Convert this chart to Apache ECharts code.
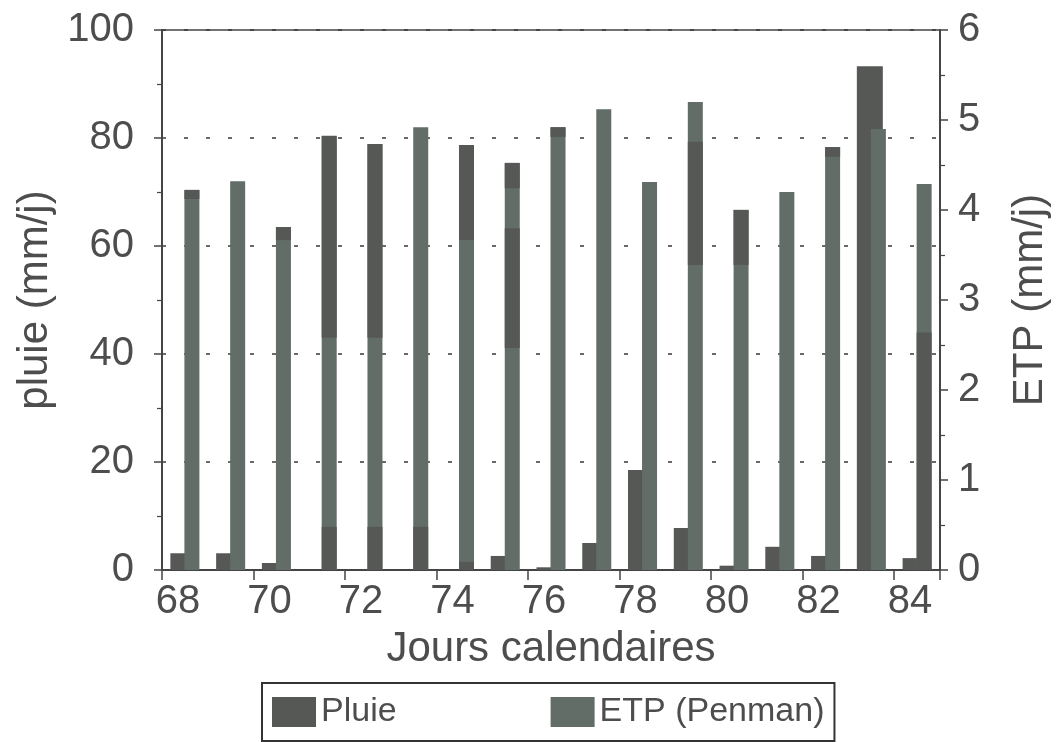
<!DOCTYPE html>
<html>
<head>
<meta charset="utf-8">
<script src="https://cdn.jsdelivr.net/npm/echarts@6/dist/echarts.min.js"></script>
<style>
  html, body { margin: 0; padding: 0; background: #fff; }
  #chart { width: 1059px; height: 742px; }
</style>
</head>
<body>
<div id="chart"></div>
<script>
// Calendar days (one bar group per day)
const days = ['68', '69', '70', '71', '72', '73', '74', '75', '76', '77', '78', '79', '80', '81', '82', '83', '84'];

// Daily rainfall, mm/j (left axis)
const pluie = [3.1, 3.1, 1.3, 0, 0, 0, 0, 2.6, 0.5, 5.0, 18.5, 7.8, 0.8, 4.3, 2.6, 93.3, 2.2];

// Penman potential evapotranspiration, mm/j (right axis)
const etp = [4.22, 4.32, 3.81, 4.82, 4.73, 4.92, 4.72, 4.52, 4.92, 5.12, 4.31, 5.2, 4.0, 4.2, 4.7, 4.9, 4.29];

// Rain shown as dark bands over the ETP bars, [from, to] in mm/j (left axis)
const pluieBandLow = [null, null, null, [0, 8], [0, 8], [0, 8], [0, 1.5], [41.1, 63.3], null, null, null, null, null, null, null, null, [0, 44]];
const pluieBandHigh = [[68.7, 70.4], null, [61.1, 63.5], [43, 80.4], [43, 78.9], null, [61.1, 78.7], [70.7, 75.4], [80.2, 82], null, null, [56.5, 79.3], [56.5, 66.7], null, [76.5, 78.3], null, null];

// Axis ticks
const pluieTicks = { min: 0, max: 100, interval: 20 };
const etpTicks = { min: 0, max: 6, interval: 1 };

const DARK = '#565856';
const GREEN = '#626d67';
const INK = '#4d4d4d';
const FONT = 'Liberation Sans';
const CLEAR = 'rgba(0,0,0,0)';

const PLUIE_W = 26;
const ETP_W = 15;
const GAP = '-46%';

// Stack pieces for the banded rain marks: invisible offsets + dark bands
const base1 = [], band1 = [], gap2 = [], band2 = [];
days.forEach((d, i) => {
  const lo = pluieBandLow[i], hi = pluieBandHigh[i];
  const loStart = lo ? lo[0] : 0, loEnd = lo ? lo[1] : 0;
  base1.push(loStart);
  band1.push(loEnd - loStart);
  if (hi) {
    gap2.push(hi[0] - loEnd);
    band2.push(hi[1] - hi[0]);
  } else {
    gap2.push(0);
    band2.push(0);
  }
});

const chart = echarts.init(document.getElementById('chart'), null, { renderer: 'canvas' });

const axisLineStyle = { color: '#444', width: 2 };

chart.setOption({
  animation: false,
  backgroundColor: '#fff',
  textStyle: { fontFamily: FONT, color: INK },
  grid: {
    left: 162, right: 117, top: 30, bottom: 172,
    show: true, borderColor: '#444', borderWidth: 1.5, backgroundColor: CLEAR
  },
  legend: {
    data: ['Pluie', 'ETP (Penman)'],
    left: 262, top: 683,
    padding: [12, 10, 12, 10],
    itemWidth: 44, itemHeight: 30, itemGap: 154,
    icon: 'rect',
    borderColor: '#333', borderWidth: 2,
    textStyle: { fontFamily: FONT, fontSize: 34, color: INK }
  },
  xAxis: [
    {
      type: 'category', data: days, boundaryGap: true,
      name: 'Jours calendaires', nameLocation: 'middle', nameGap: 58,
      nameTextStyle: { fontFamily: FONT, fontSize: 42, color: INK },
      axisLine: { lineStyle: axisLineStyle },
      axisTick: { show: true, length: 10, lineStyle: { color: '#444', width: 1.5 } },
      axisLabel: { interval: 1, fontSize: 40, color: INK, margin: 12, padding: [0, 14, 0, 0] },
      splitLine: { show: false }
    },
    {
      type: 'category', data: days, boundaryGap: true, show: false
    }
  ],
  yAxis: [
    {
      type: 'value', min: pluieTicks.min, max: pluieTicks.max, interval: pluieTicks.interval,
      name: 'pluie (mm/j)', nameLocation: 'middle', nameGap: 104,
      nameTextStyle: { fontFamily: FONT, fontSize: 42, color: INK },
      axisLine: { show: true, lineStyle: axisLineStyle },
      axisTick: { show: true, length: 8, lineStyle: { color: '#444', width: 1.5 } },
      minorTick: { show: true, splitNumber: 2, length: 5, lineStyle: { color: '#444', width: 1.2 } },
      axisLabel: { fontSize: 40, color: INK, margin: 28 },
      splitLine: { show: true, lineStyle: { color: '#3a3a3a', width: 1.5, type: [4, 18] } }
    },
    {
      type: 'value', min: etpTicks.min, max: etpTicks.max, interval: etpTicks.interval,
      position: 'right',
      name: 'ETP (mm/j)', nameLocation: 'middle', nameGap: 69,
      nameTextStyle: { fontFamily: FONT, fontSize: 42, color: INK },
      axisLine: { show: true, lineStyle: axisLineStyle },
      axisTick: { show: true, length: 8, lineStyle: { color: '#444', width: 1.5 } },
      minorTick: { show: true, splitNumber: 2, length: 5, lineStyle: { color: '#444', width: 1.2 } },
      axisLabel: { fontSize: 40, color: INK, margin: 18 },
      splitLine: { show: false }
    }
  ],
  series: [
    {
      name: 'Pluie', type: 'bar', xAxisIndex: 0, yAxisIndex: 0,
      data: pluie, barWidth: PLUIE_W, barGap: GAP,
      itemStyle: { color: DARK }
    },
    {
      name: 'ETP (Penman)', type: 'bar', xAxisIndex: 0, yAxisIndex: 1,
      data: etp, barWidth: ETP_W, barGap: GAP,
      itemStyle: { color: GREEN }
    },
    // Empty column that keeps the bands aligned over the ETP bars
    {
      type: 'bar', xAxisIndex: 1, yAxisIndex: 0, data: [],
      barWidth: PLUIE_W, barGap: GAP, silent: true
    },
    {
      type: 'bar', xAxisIndex: 1, yAxisIndex: 0, stack: 'bands',
      data: base1, barWidth: ETP_W, barGap: GAP, silent: true,
      itemStyle: { color: CLEAR }
    },
    {
      name: 'Pluie', type: 'bar', xAxisIndex: 1, yAxisIndex: 0, stack: 'bands',
      data: band1, barWidth: ETP_W, barGap: GAP,
      itemStyle: { color: DARK }
    },
    {
      type: 'bar', xAxisIndex: 1, yAxisIndex: 0, stack: 'bands',
      data: gap2, barWidth: ETP_W, barGap: GAP, silent: true,
      itemStyle: { color: CLEAR }
    },
    {
      name: 'Pluie', type: 'bar', xAxisIndex: 1, yAxisIndex: 0, stack: 'bands',
      data: band2, barWidth: ETP_W, barGap: GAP,
      itemStyle: { color: DARK }
    }
  ]
});
</script>
</body>
</html>
